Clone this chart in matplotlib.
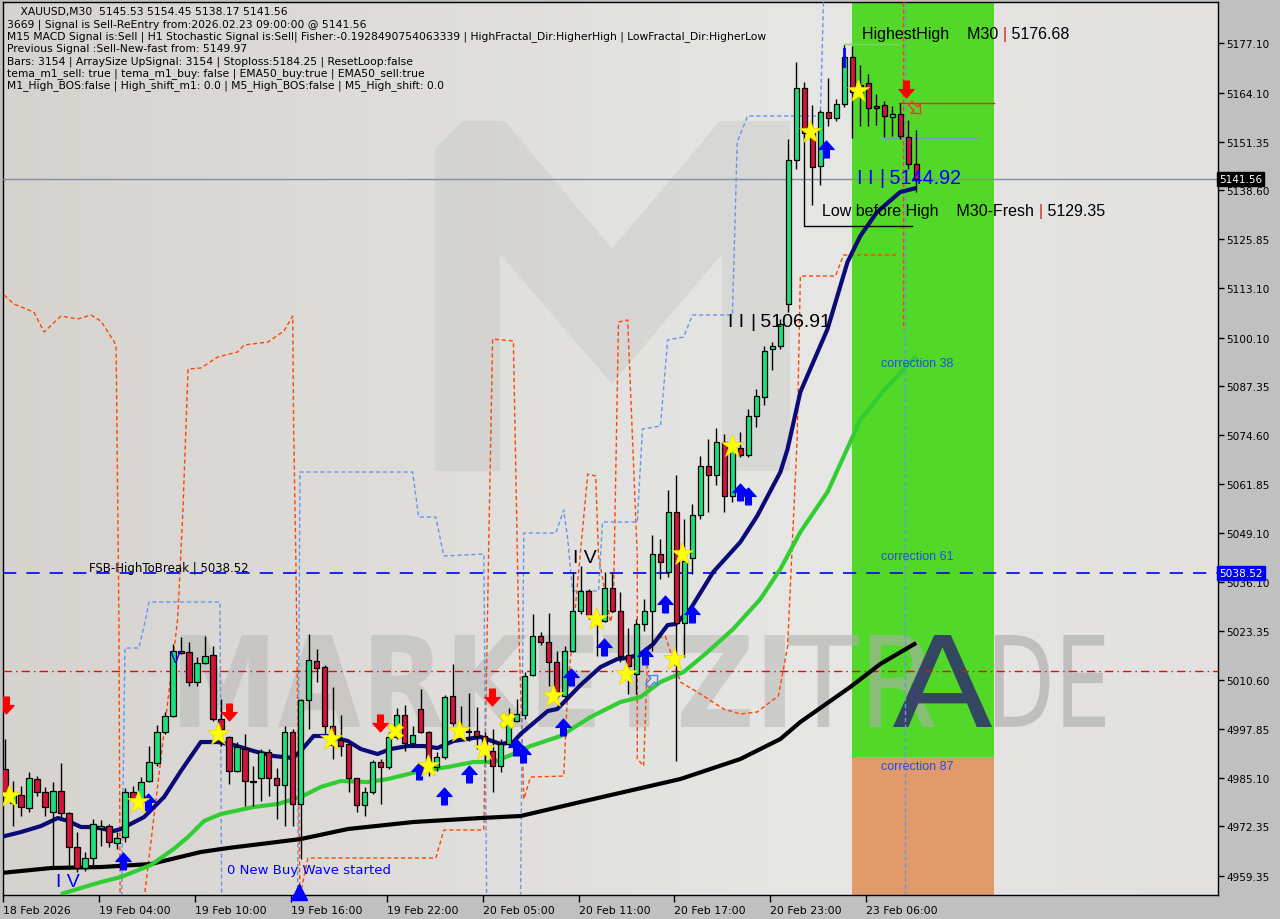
import matplotlib
matplotlib.use("Agg")
import matplotlib.pyplot as plt
import matplotlib.transforms as mtransforms
from matplotlib.path import Path
from matplotlib.patches import Rectangle, Polygon, PathPatch
from matplotlib.textpath import TextPath
from matplotlib.font_manager import FontProperties
from matplotlib.colors import LinearSegmentedColormap
import numpy as np

plt.rcParams['font.family'] = ['DejaVu Sans']

# ---------------- data (XAUUSD M30) ----------------
opens = [4987.32, 4978.43, 4980.53, 4977.13, 4984.71, 4981.31, 4976.08, 4981.57, 4975.82, 4966.93,
         4961.44, 4964.06, 4971.90, 4972.42, 4967.98, 4969.55, 4981.31, 4979.48, 4984.19, 4988.89,
         4996.99, 5001.18, 5018.17, 5017.91, 5010.06, 5015.03, 5017.12, 5000.39, 4995.69, 4986.80,
         4992.55, 4984.19, 4984.97, 4991.77, 4984.97, 4983.14, 4996.99, 4978.17, 5005.36, 5015.55,
         5013.98, 4998.56, 4994.90, 4993.86, 4984.97, 4977.91, 4981.31, 4989.15, 4987.85, 4995.69,
         5001.44, 4994.12, 5003.01, 4996.99, 4987.85, 4990.46, 5006.40, 4997.26, 4996.99, 4997.26,
         4995.95, 4992.03, 4988.11, 4993.86, 4999.87, 5001.44, 5011.89, 5022.09, 5020.52, 5015.29,
         5006.40, 5018.17, 5028.62, 5033.85, 5027.58, 5026.01, 5034.64, 5028.62, 5017.12, 5012.15,
         5025.22, 5028.62, 5043.52, 5038.82, 5054.50, 5025.49, 5042.48, 5053.72, 5066.53, 5064.17,
         5072.80, 5058.68, 5071.23, 5069.40, 5079.60, 5084.56, 5097.11, 5097.89, 5108.87, 5146.51,
         5165.34, 5153.57, 5144.95, 5159.06, 5157.49, 5161.15, 5173.44, 5166.12, 5166.64, 5160.63,
         5160.89, 5157.75, 5158.54, 5152.53, 5145.53]
highs = [4995.16, 4984.19, 4982.88, 4986.54, 4985.49, 4982.62, 4983.92, 4988.89, 4976.08, 4970.85,
         4965.63, 4974.25, 4973.99, 4972.94, 4970.85, 4982.36, 4982.88, 4985.23, 4993.33, 4998.82,
         5002.22, 5020.00, 5021.83, 5020.52, 5016.60, 5022.09, 5019.47, 5005.62, 4995.95, 4994.38,
         4996.47, 4988.11, 4992.55, 4992.55, 4987.58, 4998.56, 4997.78, 5005.62, 5022.61, 5018.69,
         5014.51, 5008.76, 5001.44, 4993.86, 4984.97, 4982.62, 4989.67, 4989.94, 4996.99, 5003.27,
         5004.05, 4998.56, 5008.23, 4997.26, 4991.77, 5006.67, 5014.77, 5003.79, 5007.19, 5003.53,
         4996.99, 4997.78, 4995.16, 5003.27, 5005.62, 5012.68, 5027.84, 5023.14, 5028.10, 5018.17,
         5019.47, 5038.82, 5040.39, 5034.37, 5028.62, 5038.82, 5038.82, 5033.59, 5024.18, 5026.53,
         5031.76, 5048.49, 5047.44, 5060.25, 5064.17, 5052.67, 5056.59, 5069.14, 5073.58, 5076.46,
         5074.89, 5073.58, 5075.41, 5081.43, 5086.65, 5097.89, 5098.94, 5104.95, 5152.00, 5172.13,
         5166.90, 5160.89, 5159.58, 5167.95, 5162.46, 5176.68, 5176.31, 5171.35, 5168.99, 5163.77,
         5161.94, 5160.63, 5161.41, 5156.97, 5154.45]
lows = [4979.48, 4972.42, 4975.04, 4976.08, 4980.26, 4975.04, 4961.18, 4974.25, 4961.18, 4960.40,
        4960.66, 4961.97, 4967.19, 4966.93, 4966.41, 4968.24, 4978.96, 4978.96, 4983.92, 4988.11,
        4996.47, 5000.91, 5017.38, 5009.02, 5009.02, 5014.77, 4999.87, 4993.33, 4983.40, 4986.54,
        4977.65, 4977.65, 4978.96, 4980.26, 4974.25, 4972.42, 4972.42, 4963.80, 4997.78, 5010.06,
        4996.47, 4989.94, 4990.72, 4981.31, 4976.08, 4975.04, 4980.79, 4978.17, 4987.32, 4995.16,
        4992.03, 4993.33, 4996.73, 4985.49, 4986.80, 4989.94, 4998.56, 4995.69, 4994.64, 4992.55,
        4989.15, 4981.31, 4986.54, 4993.33, 4999.61, 5000.39, 5011.63, 5019.74, 5009.02, 5005.62,
        5006.14, 5017.91, 5027.84, 5026.53, 5016.86, 5025.75, 5028.36, 5015.29, 5006.93, 5006.93,
        5023.40, 5018.17, 5036.99, 5037.51, 4989.41, 5016.60, 5038.29, 5052.67, 5054.50, 5061.56,
        5054.50, 5057.12, 5068.88, 5068.88, 5076.72, 5082.47, 5091.62, 5097.11, 5106.91, 5144.16,
        5152.00, 5134.75, 5139.98, 5155.40, 5156.71, 5160.37, 5152.27, 5155.40, 5155.40, 5155.66,
        5152.53, 5152.79, 5152.00, 5144.16, 5138.17]
closes = [4981.31, 4980.53, 4977.39, 4984.97, 4981.31, 4977.39, 4981.57, 4975.82, 4966.93, 4961.44,
          4964.06, 4972.94, 4972.42, 4968.24, 4969.29, 4981.31, 4979.48, 4983.92, 4989.15, 4996.99,
          5001.18, 5018.17, 5017.64, 5010.06, 5015.03, 5016.86, 5000.39, 4997.78, 4986.80, 4993.07,
          4984.19, 4983.92, 4991.77, 4984.97, 4983.14, 4996.99, 4978.17, 5005.36, 5015.81, 5013.72,
          4998.56, 4993.60, 4993.33, 4984.97, 4977.91, 4981.31, 4989.15, 4987.85, 4995.69, 5001.44,
          4994.12, 4996.22, 4996.99, 4987.32, 4990.46, 5006.14, 4999.35, 4998.04, 4997.26, 4995.95,
          4993.07, 4988.11, 4993.86, 4999.13, 5001.70, 5011.63, 5022.09, 5020.52, 5015.29, 5006.40,
          5018.17, 5028.62, 5033.85, 5027.58, 5026.53, 5034.64, 5028.62, 5016.86, 5014.25, 5025.22,
          5028.62, 5043.52, 5041.43, 5054.50, 5025.49, 5041.69, 5053.72, 5066.53, 5064.17, 5072.80,
          5058.68, 5070.97, 5069.40, 5079.60, 5084.82, 5096.59, 5097.89, 5103.64, 5146.51, 5165.34,
          5153.57, 5144.68, 5159.06, 5157.49, 5161.15, 5173.44, 5164.29, 5164.29, 5160.11, 5160.11,
          5158.02, 5158.54, 5152.79, 5145.47, 5141.56]

# moving averages (vertex bar index, value)
ema_fast_x = [-0.5, 2, 4.5, 6.6, 7.9, 9.5, 11.1, 13.6, 14.5, 17.4, 19.9, 22, 24.5, 26.6, 28.6, 31.1,
              33.6, 36, 37, 38.6, 40.4, 42.9, 44.5, 46.6, 48.25, 50.4, 52.4, 54.1, 56.1, 58.6, 59.5,
              62, 63.6, 64.5, 67.9, 69.1, 72, 74.5, 76.6, 77.9, 79.5, 81.1, 82.9, 83.9, 85.75, 88.6,
              92, 94.1, 97, 97.9, 99.5, 102.9, 105.4, 107, 109.1, 112, 114]
ema_fast_y = [4969.55, 4970.85, 4972.42, 4974.51, 4973.73, 4972.16, 4972.16, 4971.12, 4971.64, 4974.77,
              4980.00, 4986.80, 4994.38, 4994.38, 4993.60, 4992.03, 4990.72, 4990.20, 4992.03, 4995.95,
              4995.95, 4994.64, 4992.55, 4991.24, 4992.55, 4993.33, 4993.33, 4992.81, 4994.64, 4995.42,
              4995.69, 4993.86, 4994.38, 4996.47, 5002.48, 5003.01, 5009.28, 5013.98, 5016.08, 5016.34,
              5017.38, 5019.99, 5024.96, 5025.23, 5029.15, 5038.82, 5046.66, 5053.46, 5064.96, 5070.97,
              5085.87, 5102.34, 5119.85, 5126.65, 5132.92, 5138.15, 5139.20]
ema50_x = [7, 12, 14.5, 18.25, 21.1, 22.9, 24.9, 27, 31.1, 34.1, 37, 39.5, 42, 45.4, 47.9, 52, 55.4,
           58.6, 61.1, 63.6, 65.75, 69.5, 73.25, 77, 79.5, 82, 84.9, 87.9, 91.1, 94.5, 97, 99.5,
           102.9, 107, 110.1, 114]
ema50_y = [4954.65, 4957.78, 4959.09, 4962.23, 4966.41, 4969.55, 4973.73, 4975.56, 4977.39, 4978.17,
           4980.00, 4982.62, 4984.19, 4983.92, 4984.71, 4986.80, 4987.85, 4989.15, 4989.15, 4991.24,
           4993.33, 4995.95, 5000.91, 5004.84, 5006.14, 5010.06, 5012.68, 5017.91, 5023.92, 5031.76,
           5039.60, 5049.27, 5059.73, 5078.55, 5086.65, 5095.28]
ema200_x = [-0.5, 5.75, 12, 18.25, 24.5, 27.9, 32, 37, 42.9, 51.1, 59.5, 64.5, 72, 84.5, 92, 97,
            99.5, 105.75, 109.5, 114]
ema200_y = [4960.14, 4961.44, 4961.70, 4962.49, 4965.63, 4966.67, 4967.72, 4969.02, 4971.64, 4973.47,
            4974.51, 4975.04, 4978.70, 4984.71, 4989.94, 4995.16, 4999.61, 5008.76, 5014.77, 5020.28]

# fractal channel lines (step vertices)
frac_red = [
    ([-0.1, 1.1, 3.6, 4.9, 7, 9.1, 10.75, 12, 13.6, 13.9, 14.25, 14.4],
     [5111.23, 5108.87, 5106.78, 5101.55, 5105.74, 5104.95, 5106.00, 5104.43, 5099.20, 5097.89, 5026.53, 4953.35]),
    ([17.4, 21.6, 22.25, 22.9, 24.5, 26.6, 29.1, 29.9, 32.9, 34.9, 36, 36.1, 36.4, 36.9],
     [4953.35, 5026.53, 5054.50, 5091.88, 5092.14, 5095.02, 5096.33, 5098.16, 5098.94, 5101.82, 5105.74, 5078.03, 5040.39, 4953.35]),
    ([36.9, 37.9, 53.9, 54.9, 59.9, 60.5, 61, 63.6, 64.25, 64.9, 65.75, 69.9, 70.4, 72.9, 73.9, 74.25,
      75.75, 76.1, 76.75, 77.9, 79.1, 79.1, 79.9, 80.4, 81.4, 82.6, 84.5, 86.6, 89.9, 92, 94.1, 95.4,
      96.75, 97.9, 99.1, 99.5, 103.9, 104.9, 111.75],
     [4954.12, 4964.06, 4964.06, 4971.38, 4971.38, 5044.05, 5099.72, 5099.20, 5026.53, 4979.48, 4985.23,
      4985.49, 5008.23, 5064.43, 5063.91, 5043.00, 5025.75, 5029.15, 5104.17, 5104.69, 5043.00, 4989.94,
      4988.11, 5017.91, 5021.31, 5022.09, 5010.06, 5007.45, 5003.01, 5001.70, 5002.22, 5004.31, 5006.40,
      5019.21, 5073.58, 5116.19, 5116.19, 5121.68, 5121.68]),
    ([112.4, 112.4], [5187.9, 5102.3]),
]
frac_blue = [
    ([14.6, 15, 16.75, 17.6, 18, 26.9, 27.1],
     [4954.12, 5018.95, 5018.95, 5026.53, 5030.98, 5030.98, 4954.12]),
    ([36.6, 36.9, 51, 51.75, 53.9, 54.9, 59.9, 60.25],
     [4954.12, 5064.96, 5064.96, 5053.19, 5053.19, 5043.00, 5043.52, 4954.12]),
    ([64.5, 64.9, 68.9, 69.9, 70.4, 71, 74.25, 74.75, 79.1, 79.75, 82, 82.9, 84.9, 86, 91, 91.6, 92.9,
      102, 102.4],
     [4954.12, 5049.01, 5049.01, 5055.02, 5047.44, 5033.85, 5033.85, 5051.89, 5051.89, 5076.20, 5076.98,
      5099.46, 5100.25, 5106.00, 5106.00, 5151.22, 5158.02, 5158.02, 5187.9]),
    ([112.6, 112.6], [5187.9, 4954.3]),
]

# signal markers (bar index, price)
buy_x = [14.75, 17.9, 51.75, 54.9, 58, 63.9, 64.75, 69.75, 70.75, 74.9, 80.1, 82.6, 85.9, 92, 93, 102.75]
buy_y = [4963.27, 4978.70, 4986.80, 4980.26, 4986.01, 4993.07, 4991.24, 4998.30, 5011.37, 5019.21,
         5016.86, 5030.45, 5027.84, 5059.73, 5058.68, 5149.39]
sell_x = [0.1, 28, 46.9, 60.9, 112.75]
sell_y = [5004.05, 5002.22, 4999.35, 5006.14, 5165.07]
star_x = [0.5, 16.6, 26.6, 40.75, 52.9, 56.75, 59.9, 68.6, 73.9, 77.75, 83.75, 84.75, 91, 100.75, 106.75]
star_y = [4980.26, 4978.70, 4996.47, 4995.16, 4988.11, 4997.26, 4992.55, 5006.40, 5026.53, 5012.15,
          5016.08, 5043.52, 5071.75, 5153.83, 5164.55]
cross_x = [48.75, 62.75]
cross_y = [4997.26, 5000.13]
hollow_buy = (80.9, 5010.6)
hollow_sell = (113.9, 5160.0)

# levels
price_now = 5141.56
fsb_high = 5038.52
red_level = 5012.90
highest_high = 5176.68
low_before_high = 5129.35
zone_bottom = 4990.46

yticks = [5177.10, 5164.10, 5151.35, 5138.60, 5125.85, 5113.10, 5100.10, 5087.35, 5074.60, 5061.85,
          5049.10, 5036.10, 5023.35, 5010.60, 4997.85, 4985.10, 4972.35, 4959.35]
xtick_bars = [0, 12, 24, 36, 48, 60, 72, 84, 96, 108]
xtick_labels = ["18 Feb 2026", "19 Feb 04:00", "19 Feb 10:00", "19 Feb 16:00", "19 Feb 22:00",
                "20 Feb 05:00", "20 Feb 11:00", "20 Feb 17:00", "20 Feb 23:00", "23 Feb 06:00"]

info_lines = [
    "    XAUUSD,M30  5145.53 5154.45 5138.17 5141.56",
    "3669 | Signal is Sell-ReEntry from:2026.02.23 09:00:00 @ 5141.56",
    "M15 MACD Signal is:Sell | H1 Stochastic Signal is:Sell| Fisher:-0.1928490754063339 | HighFractal_Dir:HigherHigh | LowFractal_Dir:HigherLow",
    "Previous Signal :Sell-New-fast from: 5149.97",
    "Bars: 3154 | ArraySize UpSignal: 3154 | Stoploss:5184.25 | ResetLoop:false",
    "tema_m1_sell: true | tema_m1_buy: false | EMA50_buy:true | EMA50_sell:true",
    "M1_High_BOS:false | High_shift_m1: 0.0 | M5_High_BOS:false | M5_High_shift: 0.0",
]

# ---------------- figure ----------------
W, H = 1280, 920
fig = plt.figure(figsize=(W / 100, H / 100), dpi=100, facecolor='#C0C0C0')
L, R, T, B = 3, 1218, 3, 896
ax = fig.add_axes([L / W, 1 - B / H, (R - L) / W, (B - T) / H])
XMIN, XMAX = -0.125, 151.75
YMIN, YMAX = 4954.39, 5187.82
ax.set_xlim(XMIN, XMAX)
ax.set_ylim(YMIN, YMAX)
pix = mtransforms.Affine2D().scale(1 / W, -1 / H).translate(0, 1) + fig.transFigure

# background gradient
cmap_bg = LinearSegmentedColormap.from_list('bg', ['#D6D3CF', '#DEDDDA', '#E6E6E4', '#E2E1DF'])
grad = np.linspace(0, 1, 256).reshape(1, -1)
ax.imshow(grad, extent=[XMIN, XMAX, YMIN, YMAX], aspect='auto', cmap=cmap_bg, zorder=0)

# watermark "M" logo
mlogo = Polygon([(435, 150), (462, 122), (505, 122), (612, 250), (720, 122), (790, 122), (790, 472),
                 (722, 472), (722, 255), (612, 385), (500, 255), (500, 472), (435, 472)],
                closed=True, transform=pix, facecolor='#BEBEBE', edgecolor='none', alpha=0.32, zorder=1)
ax.add_patch(mlogo)

# trade zone boxes
ax.add_patch(Rectangle((105.9, zone_bottom), 17.85, YMAX - zone_bottom, facecolor='#52D828',
                       edgecolor='none', zorder=1))
ax.add_patch(Rectangle((105.9, YMIN), 17.85, zone_bottom - YMIN, facecolor='#E39A6A',
                       edgecolor='none', zorder=1))


def wm_text(s, x0, x1, ytop, ybot, color, alpha, weight='normal'):
    tp = TextPath((0, 0), s, size=100, prop=FontProperties(family='DejaVu Sans', weight=weight))
    bb = tp.get_extents()
    sx = (x1 - x0) / bb.width
    sy = (ybot - ytop) / bb.height
    tr = mtransforms.Affine2D().translate(-bb.x0, -bb.y0).scale(sx, -sy).translate(x0, ybot) + pix
    ax.add_patch(PathPatch(tp, transform=tr, facecolor=color, edgecolor='none', alpha=alpha, zorder=2))


wm_text("MARKETZI", 180, 785, 636, 728, '#B8B8B8', 0.55, 'bold')
wm_text("TR", 788, 935, 636, 728, '#AEAEAE', 0.6)
wm_text("A", 893, 992, 636, 728, '#2E2E6C', 0.85)
wm_text("DE", 995, 1105, 636, 728, '#A8A8A8', 0.6)

# fractal lines
for xs, ys in frac_red:
    ax.plot(xs, ys, color='#FF4500', lw=1, ls=(0, (3, 2)), zorder=3)
for xs, ys in frac_blue:
    ax.plot(xs, ys, color='#6495ED', lw=1, ls=(0, (3, 2)), zorder=3)

# horizontal levels
ax.axhline(price_now, color='#7890A8', lw=1, zorder=3)
ax.axhline(fsb_high, color='#0000FF', lw=1.2, ls=(0, (8, 6)), zorder=3)
ax.axhline(red_level, color='#FF0000', lw=1, ls=(0, (6, 3, 1, 3)), zorder=3)
ax.plot([111.9, 123.75], [5161.41, 5161.41], color='#FF2020', lw=1, zorder=3)
ax.plot([109.9, 121.9], [5152.27, 5152.27], color='#8098B0', lw=1, zorder=3)
ax.plot([104.9, 112.0], [5176.84, 5176.84], color='#7FD35A', lw=1, zorder=3)
ax.plot([104.9, 104.9], [5175.5, 5171.0], color='#0000FF', lw=2, zorder=7)
ax.plot([99.9, 99.9, 113.5], [5153.83, low_before_high, low_before_high], color='black', lw=1, zorder=3)

# moving averages
ax.plot(ema200_x, ema200_y, color='black', lw=3, zorder=4, solid_capstyle='butt')
ax.plot(ema50_x, ema50_y, color='#32CD32', lw=3, zorder=4, solid_capstyle='butt')
ax.plot(ema_fast_x, ema_fast_y, color='#0B0B78', lw=3, zorder=4, solid_capstyle='butt')

# candles
o = np.array(opens); h = np.array(highs); l = np.array(lows); c = np.array(closes)
xb = np.arange(len(o))
ax.vlines(xb, l, h, color='black', lw=1, zorder=5)
bottoms = np.minimum(o, c)
heights = np.maximum(np.abs(c - o), 0.3)
cols = np.where(c >= o, '#19E27B', '#D2143A')
ax.bar(xb, heights, bottom=bottoms, width=0.68, color=cols, edgecolor='black', linewidth=0.9, zorder=6)

# markers
up_arrow = Path([(-0.17, -0.5), (0.17, -0.5), (0.17, 0.02), (0.45, 0.0), (0, 0.5), (-0.45, 0.0),
                 (-0.17, 0.02), (-0.17, -0.5)], closed=True)
down_arrow = Path([(x_, -y_) for x_, y_ in up_arrow.vertices], closed=True)
ur_arrow = mtransforms.Affine2D().rotate_deg(-45).transform_path(up_arrow)
dr_arrow = mtransforms.Affine2D().rotate_deg(-135).transform_path(up_arrow)
ax.plot(buy_x, buy_y, ls='none', marker=up_arrow, markersize=12, color='#0000FF', zorder=7)
ax.plot(sell_x, sell_y, ls='none', marker=down_arrow, markersize=12, color='#FF0000', zorder=7)
ax.plot([hollow_buy[0]], [hollow_buy[1]], ls='none', marker=ur_arrow, markersize=10,
        markerfacecolor='none', markeredgecolor='#5080E0', markeredgewidth=1, zorder=7)
ax.plot([hollow_sell[0]], [hollow_sell[1]], ls='none', marker=dr_arrow, markersize=10,
        markerfacecolor='none', markeredgecolor='#FF3030', markeredgewidth=1, zorder=7)
ax.plot(star_x, star_y, ls='none', marker='*', markersize=17, color='#FFFF00', markeredgecolor='#E8D800',
        markeredgewidth=0.5, zorder=7)
ax.plot(cross_x, cross_y, ls='none', marker='X', markersize=11, color='#FFFF00', markeredgecolor='#E0C000',
        markeredgewidth=0.5, zorder=7)
ax.plot([36.75], [4955.2], ls='none', marker='^', markersize=11, color='#0000FF', zorder=7, clip_on=False)

# text annotations
sans = ['Liberation Sans', 'DejaVu Sans']


def chain(x, y, parts, size):
    """Write consecutive text pieces, each right after the previous one."""
    t = ax.text(x, y, parts[0][0], color=parts[0][1], fontsize=size, ha='left', va='center',
                family=sans, zorder=8)
    for s, col in parts[1:]:
        t = ax.annotate(s, xy=(1, 0.5), xycoords=t, color=col, fontsize=size, ha='left', va='center',
                        family=sans, zorder=8)
    return t


ax.text(7.9, 4958.0, "I V", color='#0000FF', fontsize=14, ha='center', va='center', family=sans, zorder=8)
ax.text(21.3, 5016.5, "V", color='#0000FF', fontsize=12, ha='center', va='center', family=sans, zorder=8)
ax.text(72.5, 5042.5, "I V", color='black', fontsize=14, ha='center', va='center', family=sans, zorder=8)
chain(90.5, 5104.2, [("I I ", 'black'), ("|", 'black'), (" 5106.91", 'black')], 14)
chain(106.6, 5141.9, [("I I ", '#0000FF'), ("|", '#0000FF'), (" 5144.92", '#0000FF')], 14.2)
chain(107.25, 5179.5, [("HighestHigh    M30 ", 'black'), ("|", '#D01010'), (" 5176.68", 'black')], 11.5)
chain(102.25, 5133.4, [("Low before High    M30-Fresh ", 'black'), ("|", '#D01010'), (" 5129.35", 'black')], 11.5)
for yv, txt in [(5093.5, "correction 38"), (5043.0, "correction 61"), (4988.1, "correction 87")]:
    ax.text(109.6, yv, txt, color='#2050E0', fontsize=9, ha='left', va='center', family=sans, zorder=8)
ax.text(10.5, 5040.1, "FSB-HighToBreak | 5038.52", color='black', fontsize=8.5, ha='left', va='center', zorder=8)
ax.text(27.8, 4961.1, "0 New Buy Wave started", color='#0000FF', fontsize=9.5, ha='left', va='center', zorder=8)

for i, line in enumerate(info_lines):
    fig.text(7 / W, 1 - (12.5 + 12.2 * i) / H, line, fontsize=7.75, color='black', va='center', ha='left',
             family='DejaVu Sans', zorder=9)

# axes styling
for s in ax.spines.values():
    s.set_color('black'); s.set_linewidth(1)
ax.yaxis.tick_right()
ax.set_yticks(yticks)
ax.set_yticklabels([f"{v:.2f}" for v in yticks])
ax.tick_params(axis='y', direction='out', length=4, width=1, labelsize=7.6, pad=2, colors='black')
ax.set_xticks([b - 0.25 for b in xtick_bars])
ax.set_xticklabels(xtick_labels, ha='left')
ax.tick_params(axis='x', direction='out', length=5, width=1, labelsize=7.8, pad=2, colors='black')

blend = mtransforms.blended_transform_factory(ax.transAxes, ax.transData)
ax.text(1.001, price_now, "5141.56", transform=blend, fontsize=7.6, color='white', va='center', ha='left',
        bbox=dict(boxstyle='square,pad=0.18', fc='black', ec='black'), zorder=10, clip_on=False)
ax.text(1.001, fsb_high, "5038.52", transform=blend, fontsize=7.6, color='white', va='center', ha='left',
        bbox=dict(boxstyle='square,pad=0.18', fc='#0000FF', ec='#0000FF'), zorder=10, clip_on=False)

fig.savefig("out.png", dpi=100, facecolor=fig.get_facecolor())
